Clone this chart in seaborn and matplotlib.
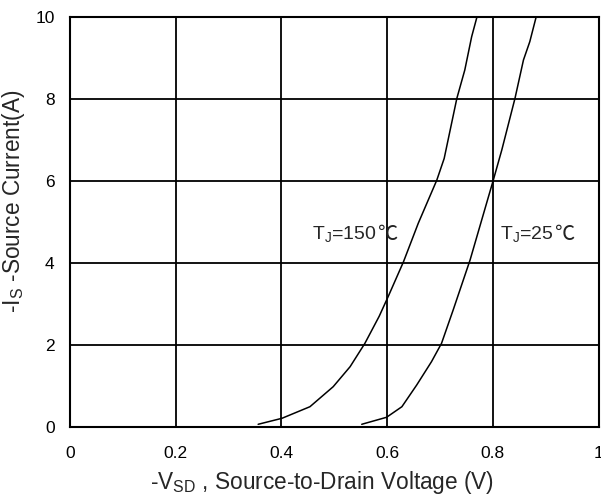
import numpy as np
import pandas as pd
import matplotlib
matplotlib.use("Agg")
import matplotlib.pyplot as plt
import seaborn as sns

# curves: -VSD (V) vs -IS (A)
v_150 = [0.356, 0.401, 0.454, 0.498, 0.530, 0.558, 0.585, 0.602, 0.631, 0.659,
         0.694, 0.708, 0.732, 0.747, 0.760, 0.770]
i_150 = [0.066, 0.212, 0.495, 0.983, 1.471, 2.041, 2.700, 3.180, 4.030, 4.970,
         6.020, 6.550, 8.017, 8.707, 9.520, 10.0]
v_25 = [0.552, 0.599, 0.628, 0.656, 0.684, 0.703, 0.725, 0.757, 0.779, 0.801,
        0.817, 0.842, 0.858, 0.870, 0.882]
i_25 = [0.066, 0.237, 0.495, 1.024, 1.593, 2.041, 2.854, 4.073, 5.049, 6.024,
        6.756, 8.017, 8.951, 9.398, 10.0]

x_ticks = [0, 0.2, 0.4, 0.6, 0.8, 1]
x_tick_labels = ["0", "0.2", "0.4", "0.6", "0.8", "1"]
y_ticks = [0, 2, 4, 6, 8, 10]

df = pd.concat([
    pd.DataFrame({"v": v_150, "i": i_150, "tj": "150"}),
    pd.DataFrame({"v": v_25, "i": i_25, "tj": "25"}),
])

sns.set_style("white")
plt.rcParams['font.family'] = ['Liberation Sans', 'DejaVu Sans']
plt.rcParams['mathtext.fontset'] = 'custom'
plt.rcParams['mathtext.rm'] = 'Liberation Sans'

fig = plt.figure(figsize=(6.01, 4.95), dpi=100)
ax = fig.add_axes([70 / 601, 68 / 495, 528.5 / 601, 410 / 495])

sns.lineplot(data=df, x="v", y="i", units="tj", estimator=None, sort=False,
             color="black", linewidth=1.1, ax=ax, legend=False)

ax.set_xlim(0, 1)
ax.set_ylim(0, 10)
ax.set_xticks(x_ticks)
ax.set_xticklabels(x_tick_labels)
ax.set_yticks(y_ticks)
ax.grid(True, color="black", linewidth=1.3)
ax.set_axisbelow(True)
for s in ax.spines.values():
    s.set_color("black")
    s.set_linewidth(1.5)
ax.tick_params(axis="x", length=0, pad=14, labelsize=12.5, colors="black")
ax.tick_params(axis="y", length=0, pad=11, labelsize=12.5, colors="black")

ax.set_xlabel(r"-V$_\mathregular{SD}$ , Source-to-Drain Voltage (V)", fontsize=16.3)
ax.set_ylabel(r"-I$_\mathregular{S}$ -Source Current(A)", fontsize=16.3)
ax.xaxis.set_label_coords(0.477, -0.103)
ax.yaxis.set_label_coords(-0.081, 0.551)

cjk = ["Noto Sans CJK SC", "DejaVu Sans"]
for x0, lab in [(0.458, "150"), (0.814, "25")]:
    t = ax.text(x0, 4.56, r"T$_\mathregular{J}$=" + lab, fontsize=14,
                ha="left", va="baseline")
    ax.annotate("℃", xy=(1, 4.56), xycoords=(t, "data"), fontsize=14.5,
                ha="left", va="baseline", family=cjk, color="#222222")

fig.savefig("out.png", dpi=100)
